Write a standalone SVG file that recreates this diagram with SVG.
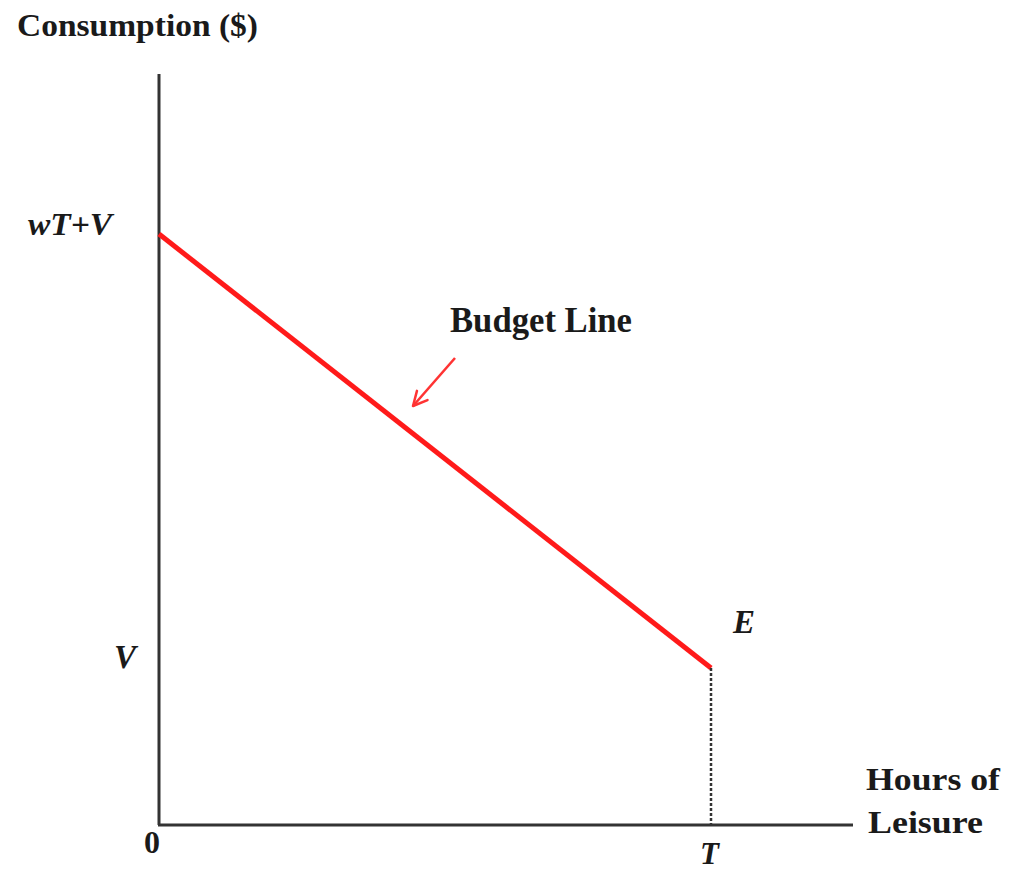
<svg xmlns="http://www.w3.org/2000/svg" width="1011" height="870" viewBox="0 0 1011 870">
<style>
.lbl{font-family:"Liberation Serif",serif;font-weight:bold;fill:#1a1a1a}
.it{font-family:"Liberation Serif",serif;font-weight:bold;font-style:italic;fill:#1a1a1a}
.axis{stroke:#333;stroke-width:3;fill:none}
</style>
<defs>
<marker id="ah" markerWidth="18" markerHeight="18" refX="16" refY="9" orient="auto" markerUnits="userSpaceOnUse">
<path d="M2,2 L16,9 L2,16" fill="none" stroke="#ff3333" stroke-width="2.5" stroke-linecap="round" stroke-linejoin="round"/>
</marker>
</defs>
<rect width="1011" height="870" fill="#fff"/>
<g id="axes">
<line class="axis" x1="159" y1="74" x2="159" y2="825"/>
<line class="axis" x1="158" y1="825" x2="853" y2="825"/>
</g>
<g id="connectors">
<line x1="159" y1="234" x2="711" y2="668" stroke="#ff1a1a" stroke-width="5"/>
<line x1="711" y1="668" x2="711" y2="824" stroke="#333" stroke-width="2.5" stroke-dasharray="3,2"/>
<line x1="455" y1="358" x2="413" y2="406" stroke="#ff3333" stroke-width="2.5" marker-end="url(#ah)"/>
</g>
<g id="labels">
<text class="lbl" x="17" y="36" font-size="31" textLength="241" lengthAdjust="spacingAndGlyphs">Consumption ($)</text>
<text class="it" x="28" y="235" font-size="32" textLength="84" lengthAdjust="spacingAndGlyphs">wT+V</text>
<text class="lbl" x="450" y="332" font-size="35" textLength="182" lengthAdjust="spacingAndGlyphs">Budget Line</text>
<text class="it" x="114" y="668" font-size="33">V</text>
<text class="it" x="733" y="633" font-size="33">E</text>
<text class="lbl" x="144" y="853" font-size="32">0</text>
<text class="it" x="700" y="864" font-size="31">T</text>
<text class="lbl" x="866" y="790" font-size="32" textLength="134" lengthAdjust="spacingAndGlyphs">Hours of</text>
<text class="lbl" x="868" y="833" font-size="32" textLength="115" lengthAdjust="spacingAndGlyphs">Leisure</text>
</g>
</svg>
